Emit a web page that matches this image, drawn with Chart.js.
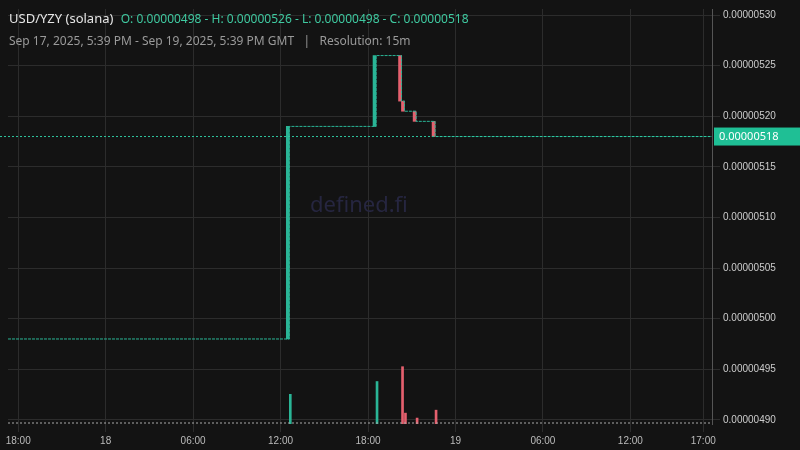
<!DOCTYPE html>
<html>
<head>
<meta charset="utf-8">
<script src="https://cdn.jsdelivr.net/npm/chart.js@4"></script>
<style>
  body { margin: 0; background: #131313; font-family: "Noto Sans", sans-serif; }
  #wrap { position: relative; width: 800px; height: 450px; }
  #title { position: absolute; left: 9px; top: 9px; font-size: 13px; color: #e6e6e6; }
  #title .ohlc { color: #3fc9a0; font-size: 12px; margin-left: 4px; }
  #sub { position: absolute; left: 9px; top: 32px; font-size: 12px; color: #9a9a9a; }
  #mark { position: absolute; left: 310px; top: 188px; font-size: 22px; color: #262640; }
</style>
</head>
<body>
<div id="wrap">
  <canvas id="c" width="800" height="450"></canvas>
  <div id="mark">defined.fi</div>
  <div id="title">USD/YZY (solana) <span class="ohlc">O: 0.00000498 - H: 0.00000526 - L: 0.00000498 - C: 0.00000518</span></div>
  <div id="sub">Sep 17, 2025, 5:39 PM - Sep 19, 2025, 5:39 PM GMT &nbsp;&nbsp;|&nbsp;&nbsp; Resolution: 15m</div>
</div>
<script>
// time in hours from Sep 17 00:00 GMT, prices in 1e-8 units
const stepTimes  = [17.3, 36.6, 42.55, 44.3, 44.5, 45.3, 46.6, 65.6];
const stepPrices = [498,  519,  526,   521.5, 520.5, 519.5, 518, 518];

const candleTimes  = [36.6, 42.55, 44.3, 44.5, 45.3, 46.6];
const candleOpen   = [498,  519,   526,   521.5, 520.5, 519.5];
const candleClose  = [519,  526,   521.5, 520.5, 519.5, 518];

const volTimes  = [36.6, 42.55, 44.3, 44.5, 45.3, 46.6];
const volValues = [30,   43,    58,    11,   6,    14];

const xTicks = [18, 24, 30, 36, 42, 48, 54, 60, 65];
const yTicks = [490, 495, 500, 505, 510, 515, 520, 525, 530];

const lastPrice = 518;
const green = '#2ab596', red = '#e5606e';

const candleColors = candleOpen.map((o, i) => candleClose[i] >= o ? green : red);

const overlay = {
  id: 'overlay',
  afterDatasetsDraw(chart) {
    const { ctx, chartArea, scales } = chart;
    const y = scales.y.getPixelForValue(lastPrice);
    ctx.save();
    ctx.strokeStyle = '#2fc79f';
    ctx.setLineDash([2, 2]);
    ctx.lineWidth = 1;
    ctx.beginPath(); ctx.moveTo(0, y); ctx.lineTo(chartArea.right, y); ctx.stroke();
    ctx.strokeStyle = '#aaaaaa';
    ctx.beginPath(); ctx.moveTo(chartArea.left, chartArea.bottom - 1); ctx.lineTo(chartArea.right, chartArea.bottom - 1); ctx.stroke();
    ctx.setLineDash([]);
    ctx.fillStyle = '#1fbf95';
    ctx.fillRect(chartArea.right + 2, y - 9, 86, 18);
    ctx.fillStyle = '#ffffff';
    ctx.font = '11px "Noto Sans"';
    ctx.textBaseline = 'middle';
    ctx.fillText((lastPrice / 1e8).toFixed(8), chartArea.right + 7, y);
    ctx.restore();
  }
};

new Chart(document.getElementById('c'), {
  data: {
    datasets: [
      { type: 'line', data: stepTimes.map((t, i) => ({ x: t, y: stepPrices[i] })), stepped: 'before',
        borderColor: green, borderWidth: 1, borderDash: [3, 1], pointRadius: 0, yAxisID: 'y' },
      { type: 'bar', data: candleTimes.map((t, i) => ({ x: t, y: [candleOpen[i], candleClose[i]] })),
        backgroundColor: candleColors, barThickness: 3, yAxisID: 'y' },
      { type: 'bar', data: volTimes.map((t, i) => ({ x: t, y: volValues[i] })),
        backgroundColor: candleColors, barThickness: 2, yAxisID: 'v' }
    ]
  },
  options: {
    responsive: false, animation: false,
    layout: { padding: { left: 8, top: 8 } },
    plugins: { legend: { display: false }, tooltip: { enabled: false } },
    scales: {
      x: { type: 'linear', min: 17.3, max: 65.6, offset: false,
        grid: { color: '#2c2c2c', offset: false }, border: { display: false },
        afterBuildTicks: s => { s.ticks = xTicks.map(v => ({ value: v })); },
        ticks: { color: '#bbbbbb', font: { size: 10 }, maxRotation: 0, autoSkip: false,
          callback: v => v % 24 === 0 ? String(17 + v / 24) : String(v % 24).padStart(2, '0') + ':00' } },
      y: { position: 'right', min: 489.6, max: 530.6,
        grid: { color: '#2c2c2c' }, border: { color: '#555' },
        afterFit: s => { s.width = 88; },
        afterBuildTicks: s => { s.ticks = yTicks.map(v => ({ value: v })); },
        ticks: { color: '#cccccc', font: { size: 10 }, callback: v => (v / 1e8).toFixed(8) } },
      v: { display: false, min: 0, max: 420 }
    }
  },
  plugins: [overlay]
});
</script>
</body>
</html>
